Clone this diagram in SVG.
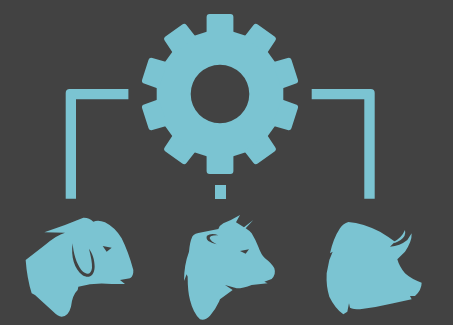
<svg xmlns="http://www.w3.org/2000/svg" width="453" height="325" viewBox="0 0 453 325">
<style>
.f{fill:#7bc4d2}
.d{fill:#424242}
</style>
<defs>
<path id="tooth" d="M-13.4 -60V-77A3 3 0 0 1 -10.4 -80H10.4A3 3 0 0 1 13.4 -77V-60Z"/>
<path id="tooth2" d="M-14 -60L-13.4 -75.5A3 3 0 0 1 -10.4 -78.5H10.4A3 3 0 0 1 13.4 -75.5L14 -60Z"/>
</defs>
<rect width="453" height="325" fill="#424242"/>
<g id="gear" class="f" transform="translate(220 94)">
<path fill-rule="evenodd" d="M0 -66.6L39.1 -53.9L63.3 -20.6L63.3 20.6L39.1 53.9L0 66.6L-39.1 53.9L-63.3 20.6L-63.3 -20.6L-39.1 -53.9ZM29.3 0A29.3 29.3 0 1 0 -29.3 0A29.3 29.3 0 1 0 29.3 0Z"/>
<use href="#tooth"/>
<use href="#tooth2" transform="rotate(36)"/>
<use href="#tooth2" transform="rotate(72)"/>
<use href="#tooth2" transform="rotate(108)"/>
<use href="#tooth2" transform="rotate(144)"/>
<use href="#tooth" transform="rotate(180)"/>
<use href="#tooth2" transform="rotate(216)"/>
<use href="#tooth2" transform="rotate(252)"/>
<use href="#tooth2" transform="rotate(288)"/>
<use href="#tooth2" transform="rotate(324)"/>
</g>
<g id="connectors" class="f">
<path d="M76 198.7H65.7V93A4 4 0 0 1 69.7 89H128.4V99.3H76Z"/>
<path d="M364.3 198.7H374.7V93A4 4 0 0 0 370.7 89H311.7V99.3H364.3Z"/>
<rect x="215" y="185" width="11" height="14"/>
</g>
<g id="sheep" transform="translate(15 210) scale(.3333)">
<path class="f" d="M88 67L150 45L205 23Q222 22 235 35Q250 28 270 37Q300 52 320 85Q340 125 355 180Q356 198 345 205L315 210L330 222L290 222Q240 216 190 230L188 240Q172 255 168 290Q160 320 140 320Q128 318 115 305L60 255L50 250Q36 205 32 150L90 105Q125 75 150 68Z"/>
<path class="d" d="M173 100C167 140 178 178 203 196C220 206 238 200 239 170C239 148 232 130 222 116C228 140 232 158 231 174C228 196 214 196 199 180C184 160 175 130 173 100Z"/>
<path class="d" d="M263 108L290 113L275 125Z"/>
</g>
<g id="cow" transform="translate(175 205) scale(.3333)">
<path class="f" d="M195 30L183 52L207 67L235 45L212 70Q222 76 230 85Q242 105 250 125Q258 148 270 160Q290 175 298 190Q304 208 290 222L268 230L278 235L230 240Q205 250 185 250L150 240L173 255L135 283L132 290Q122 312 105 332Q90 348 75 343Q55 325 45 285Q38 260 38 215L35 208L27 228Q27 180 42 140Q45 110 50 100Q52 88 70 84L100 78L130 72Q135 60 145 55Q170 45 195 30Z"/>
<path class="d" d="M130 91Q110 82 96 92Q92 100 100 108Q112 115 125 118Q108 110 104 100Q103 90 130 91Z"/>
<path class="d" d="M195 138L222 133L212 146Z"/>
</g>
<g id="pig" transform="translate(320 210) scale(.3333)">
<path class="f" d="M85 36Q130 40 180 65Q205 80 225 95L210 110Q240 108 262 90L275 70Q276 95 255 125L232 148Q238 170 255 190Q275 208 305 218Q305 240 285 258L270 258L275 268L220 280Q170 292 120 298Q100 298 90 293L87 280L82 305L70 313Q45 295 28 260Q18 230 20 190L28 150L38 125L30 130Q40 85 60 55Q70 40 85 36Z"/>
<path class="f" d="M220 96Q245 84 255 60Q259 78 242 90Q232 96 224 99Z"/>
</g>
</svg>
